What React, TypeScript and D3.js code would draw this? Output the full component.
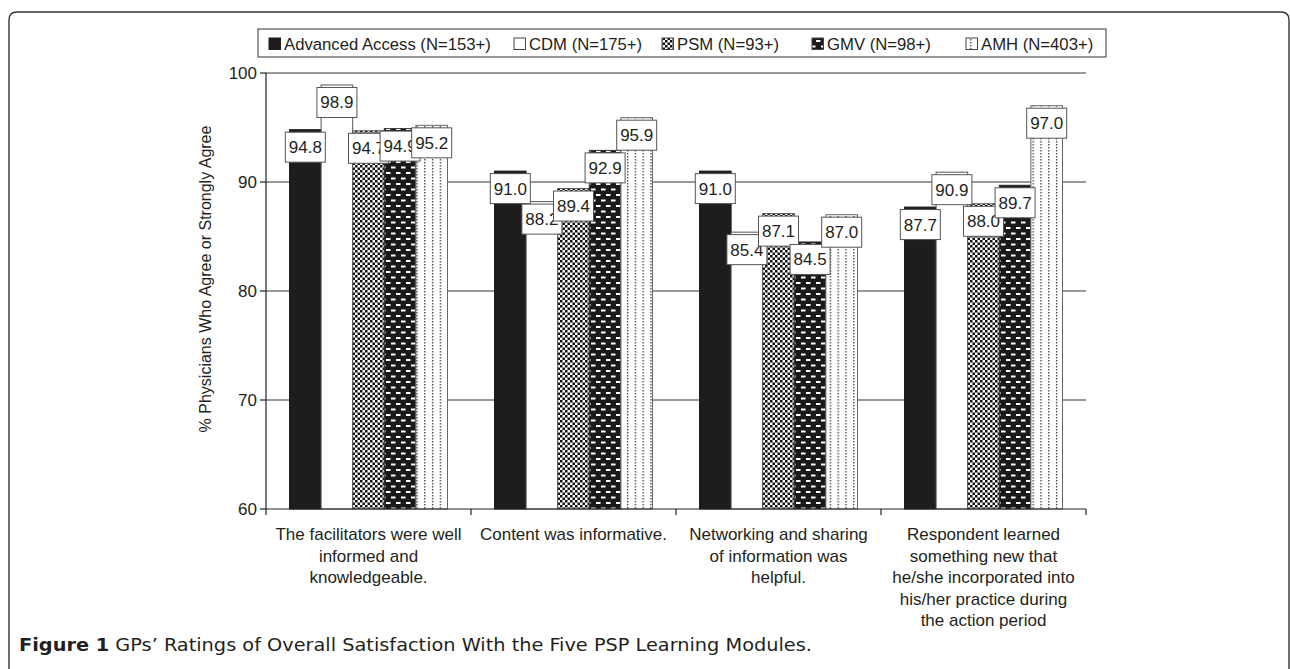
import React from "react";
import * as d3 from "d3";

const categories: string[][] = [
  ["The facilitators were well", "informed and", "knowledgeable."],
  ["Content was informative."],
  ["Networking and sharing", "of information was", "helpful."],
  ["Respondent learned", "something new that", "he/she incorporated into", "his/her practice during", "the action period"],
];
const seriesNames = ["Advanced Access (N=153+)", "CDM (N=175+)", "PSM (N=93+)", "GMV (N=98+)", "AMH (N=403+)"];
const advancedAccess = [94.8, 91.0, 91.0, 87.7];
const cdm = [98.9, 88.2, 85.4, 90.9];
const psm = [94.7, 89.4, 87.1, 88.0];
const gmv = [94.9, 92.9, 84.5, 89.7];
const amh = [95.2, 95.9, 87.0, 97.0];
const yTicks = [60, 70, 80, 90, 100];
const yTitle = "% Physicians Who Agree or Strongly Agree";
const captionBold = "Figure 1";
const captionRest = " GPs\u2019 Ratings of Overall Satisfaction With the Five PSP Learning Modules.";

const series = [advancedAccess, cdm, psm, gmv, amh];
const fills = ["#1e1c1d", "#ffffff", "url(#pPSM)", "url(#pGMV)", "url(#pAMH)"];
const strokes = ["#1e1c1d", "#555", "#555", "#333", "#666"];
const legendX = [269, 514, 662, 812, 966];

const FONT = "'Liberation Sans', Arial, Helvetica, sans-serif";

export default function App() {
  const left = 266, right = 1086, top = 73, bottom = 509;
  const y = d3.scaleLinear().domain([60, 100]).range([bottom, top]);
  const x = d3.scaleBand<number>().domain(categories.map((_, i) => i)).range([left, right]).padding(0);
  const xs = d3
    .scaleBand<number>()
    .domain(series.map((_, i) => i))
    .range([0, x.bandwidth()])
    .paddingInner(0)
    .paddingOuter(0.744);
  const bw = xs.bandwidth();
  const boundaries = d3.range(categories.length + 1).map((i) => left + i * x.step());

  return (
    <svg width={1290} height={669} style={{ position: "absolute", left: 0, top: 0, background: "#fff" }} fontFamily={FONT}>
      <defs>
        <pattern id="pPSM" patternUnits="userSpaceOnUse" width={5} height={5}>
          <rect width={5} height={5} fill="#fff" />
          <rect x={0} y={0} width={2.5} height={2.5} fill="#111" />
          <rect x={2.5} y={2.5} width={2.5} height={2.5} fill="#111" />
        </pattern>
        <pattern id="pGMV" patternUnits="userSpaceOnUse" width={10} height={11}>
          <rect width={10} height={11} fill="#1a1a1a" />
          <rect x={1} y={1.5} width={4.5} height={2} fill="#fff" />
          <rect x={6} y={7} width={4.5} height={2} fill="#fff" />
          <rect x={-4} y={7} width={4.5} height={2} fill="#fff" />
        </pattern>
        <pattern id="pAMH" patternUnits="userSpaceOnUse" width={7.8} height={3}>
          <rect width={7.8} height={3} fill="#fff" />
          <rect x={3} y={0} width={1.2} height={1.5} fill="#333" />
        </pattern>
      </defs>

      {/* outer frame */}
      <path d="M9 669 L9 20 Q9 12 17 12 L1281 12 Q1289 12 1289 20 L1289 669" fill="none" stroke="#333" strokeWidth={1.4} />

      {/* legend */}
      <rect x={258} y={29} width={848} height={28} fill="#fff" stroke="#555" strokeWidth={1.2} />
      {seriesNames.map((name, i) => (
        <g key={name}>
          <rect x={legendX[i]} y={38} width={11.5} height={11.5} fill={fills[i]} stroke={i === 0 ? "#1e1c1d" : "#444"} strokeWidth={1} />
          <text x={legendX[i] + 15} y={49.5} fontSize={16.7} fill="#231f20">
            {name}
          </text>
        </g>
      ))}

      {/* gridlines */}
      {yTicks
        .filter((t) => t !== 60)
        .map((t) => (
          <line key={t} x1={left} x2={right} y1={y(t)} y2={y(t)} stroke="#333" strokeWidth={1} />
        ))}

      {/* bars */}
      {series.map((vals, s) =>
        vals.map((v, c) => (
          <rect
            key={`b${s}-${c}`}
            x={(x(c) as number) + (xs(s) as number)}
            y={y(v)}
            width={bw}
            height={bottom - y(v)}
            fill={fills[s]}
            stroke={strokes[s]}
            strokeWidth={1}
          />
        ))
      )}

      {/* axes */}
      <line x1={left} x2={left} y1={top} y2={bottom} stroke="#222" strokeWidth={1.2} />
      <line x1={left} x2={right} y1={bottom} y2={bottom} stroke="#222" strokeWidth={1.2} />
      {yTicks.map((t) => (
        <g key={`yt${t}`}>
          <line x1={left - 6} x2={left} y1={y(t)} y2={y(t)} stroke="#222" strokeWidth={1.2} />
          <text x={left - 9} y={y(t) + 6} textAnchor="end" fontSize={17} fill="#231f20">
            {t}
          </text>
        </g>
      ))}
      {boundaries.map((bx, i) => (
        <line key={`xt${i}`} x1={bx} x2={bx} y1={bottom} y2={bottom + 6} stroke="#222" strokeWidth={1.2} />
      ))}

      {/* value label boxes */}
      {series.map((vals, s) =>
        vals.map((v, c) => {
          const cx = (x(c) as number) + (xs(s) as number) + bw / 2;
          const ty = y(v) + 2.5;
          return (
            <g key={`l${s}-${c}`}>
              <rect x={cx - 20} y={ty} width={40} height={30} fill="#fff" stroke="#555" strokeWidth={1} />
              <text x={cx} y={ty + 21} textAnchor="middle" fontSize={17} fill="#231f20">
                {v.toFixed(1)}
              </text>
            </g>
          );
        })
      )}

      {/* category labels */}
      {categories.map((lines, c) => (
        <text key={`c${c}`} textAnchor="middle" fontSize={17} fill="#231f20">
          {lines.map((ln, k) => (
            <tspan key={k} x={(x(c) as number) + x.bandwidth() / 2} y={540 + k * 21.5}>
              {ln}
            </tspan>
          ))}
        </text>
      ))}

      {/* y title */}
      <text
        transform={`translate(205, ${(top + bottom) / 2 - 12}) rotate(-90)`}
        textAnchor="middle"
        dominantBaseline="central"
        fontSize={16}
        fill="#231f20"
      >
        {yTitle}
      </text>

      {/* caption */}
      <text
        x={19}
        y={651}
        fontSize={17.5}
        fill="#231f20"
        fontFamily="'DejaVu Sans Condensed', 'Liberation Sans Narrow', 'Open Sans', sans-serif"
        textLength={793}
        lengthAdjust="spacingAndGlyphs"
      >
        <tspan fontWeight="bold">{captionBold}</tspan>
        <tspan fontWeight="normal">{captionRest}</tspan>
      </text>
    </svg>
  );
}
